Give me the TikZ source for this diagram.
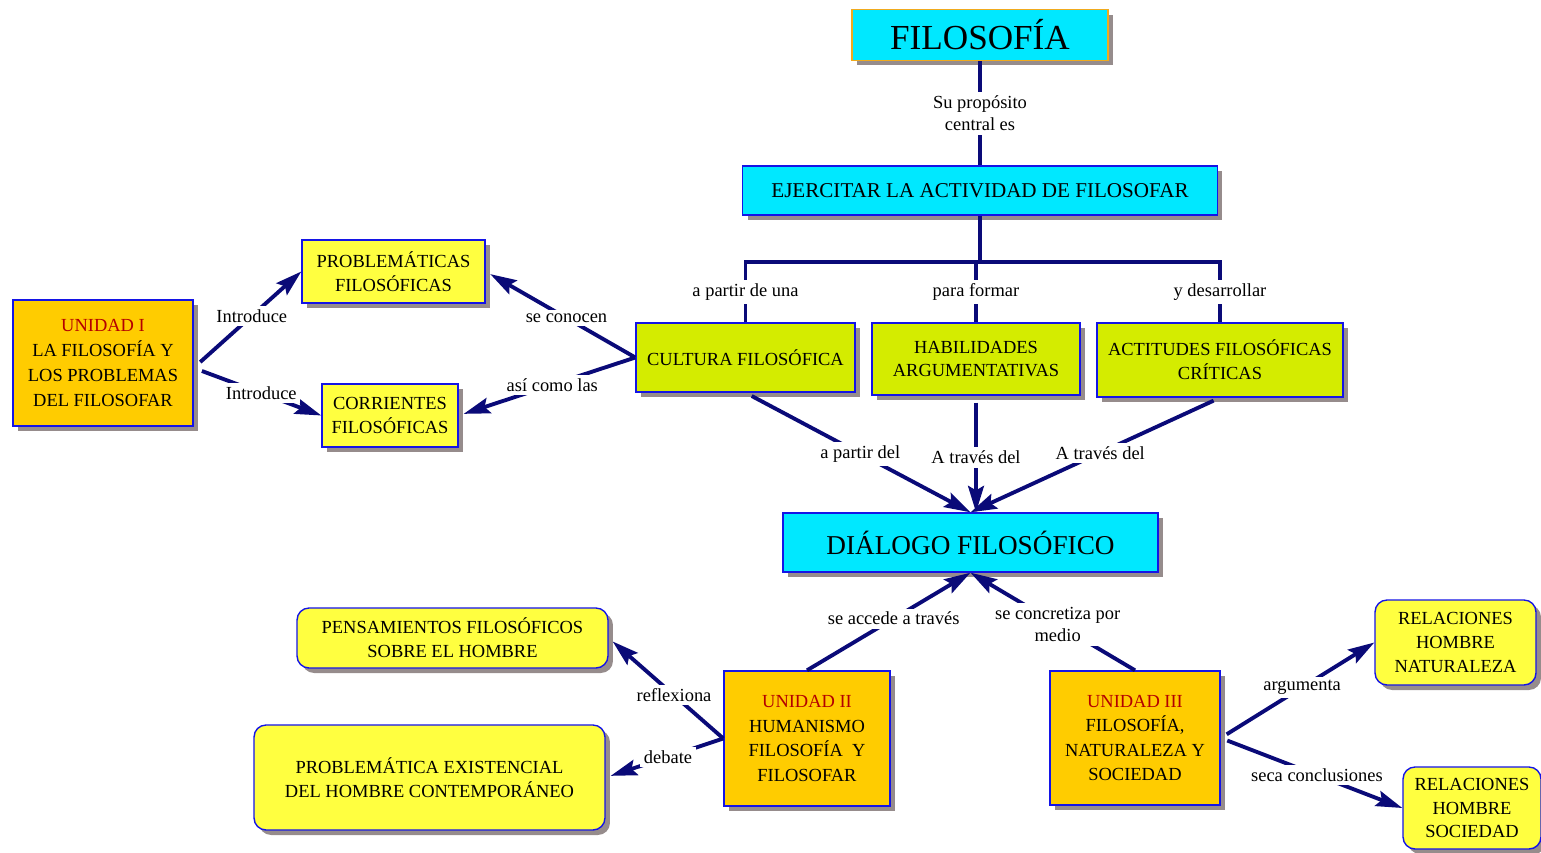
\documentclass[tikz,border=0pt]{standalone}
\usepackage{fontspec}
\setmainfont{Liberation Serif}
\usetikzlibrary{arrows.meta,shadows}
\definecolor{linea}{RGB}{10,10,120}
\definecolor{celeste}{RGB}{0,232,255}
\definecolor{limon}{RGB}{212,236,0}
\definecolor{amarillo}{RGB}{255,255,64}
\definecolor{naranja}{RGB}{255,204,0}
\definecolor{borde}{RGB}{20,20,230}
\definecolor{dorado}{RGB}{240,170,30}
\definecolor{sombra}{RGB}{150,140,140}
\definecolor{rojo}{RGB}{180,0,0}

\begin{document}
\begin{tikzpicture}[x=0.02cm, y=-0.02cm, >={Stealth[length=15pt,width=9pt,inset=2.5pt]},
    caja/.style={draw=borde, line width=0.8pt, align=center, inner sep=0pt,
        font=\fontsize{10.5}{13.6}\selectfont,
        drop shadow={shadow xshift=0.1cm, shadow yshift=-0.1cm, fill=sombra, opacity=1}},
    redonda/.style={caja, rounded corners=0.24cm, fill=amarillo},
    etiq/.style={fill=white, inner sep=2pt, align=center, font=\fontsize{10.5}{13}\selectfont},
    conn/.style={draw=linea, line width=2.2pt},
    flecha/.style={conn, ->}]

    \useasboundingbox (0,0) rectangle (1541,852);

    % cabecera
    \node[caja, draw=dorado, fill=celeste, minimum width=5.12cm, minimum height=1.02cm,
        font=\fontsize{20}{24}\selectfont] (filo) at (980,35) {FILOSOFÍA};
    \node[caja, fill=celeste, minimum width=9.5cm, minimum height=0.98cm,
        font=\fontsize{12}{14}\selectfont] (ejer) at (980,190.5) {EJERCITAR LA ACTIVIDAD DE FILOSOFAR};

    \node[caja, fill=limon, minimum width=4.38cm, minimum height=1.38cm] (cult) at (745.5,357.5) {CULTURA FILOSÓFICA};
    \node[caja, fill=limon, minimum width=4.16cm, minimum height=1.44cm] (habi) at (976,359) {HABILIDADES\\ARGUMENTATIVAS};
    \node[caja, fill=limon, minimum width=4.92cm, minimum height=1.48cm] (acti) at (1220,360) {ACTITUDES FILOSÓFICAS\\CRÍTICAS};

    % izquierda
    \node[caja, fill=naranja, minimum width=3.6cm, minimum height=2.52cm,
        font=\fontsize{10.5}{14.2}\selectfont] (uni1) at (103,363)
        {{\color{rojo}UNIDAD I}\\LA FILOSOFÍA Y\\LOS PROBLEMAS\\DEL FILOSOFAR};
    \node[caja, fill=amarillo, minimum width=3.66cm, minimum height=1.26cm] (prob) at (393.5,271.5) {PROBLEMÁTICAS\\FILOSÓFICAS};
    \node[caja, fill=amarillo, minimum width=2.72cm, minimum height=1.26cm] (corr) at (390,415.5) {CORRIENTES\\FILOSÓFICAS};

    \node[caja, fill=celeste, minimum width=7.5cm, minimum height=1.18cm,
        font=\fontsize{15.5}{18}\selectfont] (dial) at (970.5,542.5) {DIÁLOGO FILOSÓFICO};

    % abajo
    \node[caja, fill=naranja, minimum width=3.32cm, minimum height=2.7cm,
        font=\fontsize{10.5}{14}\selectfont] (uni2) at (807,738.5)
        {{\color{rojo}UNIDAD II}\\HUMANISMO\\FILOSOFÍA \ Y\\FILOSOFAR};
    \node[caja, fill=naranja, minimum width=3.4cm, minimum height=2.68cm,
        font=\fontsize{10.5}{14}\selectfont] (uni3) at (1135,738)
        {{\color{rojo}UNIDAD III}\\FILOSOFÍA,\\NATURALEZA Y\\SOCIEDAD};
    \node[redonda, minimum width=6.22cm, minimum height=1.2cm] (pens) at (452.5,638) {PENSAMIENTOS FILOSÓFICOS\\SOBRE EL HOMBRE};
    \node[redonda, minimum width=7.02cm, minimum height=2.1cm] (pexi) at (429.5,777.5) {PROBLEMÁTICA EXISTENCIAL\\DEL HOMBRE CONTEMPORÁNEO};
    \node[redonda, minimum width=3.22cm, minimum height=1.7cm] (rnat) at (1455.5,642.5) {RELACIONES\\HOMBRE\\NATURALEZA};
    \node[redonda, minimum width=2.76cm, minimum height=1.64cm] (rsoc) at (1472,808) {RELACIONES\\HOMBRE\\SOCIEDAD};

    % conectores
    \coordinate (rama) at (980,262);
    \coordinate (sal1) at ([yshift=-2.8pt]uni1.east);
    \draw[conn] (filo.south) -- node[etiq]{Su propósito\\central es} (ejer.north);
    \draw[conn] (ejer.south) -- (rama);
    \draw[conn] (rama) -| node[etiq, pos=0.75]{a partir de una} (cult.north);
    \draw[conn] (rama) -| node[etiq, pos=0.75]{y desarrollar} (acti.north);
    \draw[conn] (habi.north |- rama) -- node[etiq]{para formar} (habi.north);

    \draw[flecha, shorten <=5pt] (sal1) -- node[etiq, pos=0.54]{Introduce} (prob.west);
    \draw[flecha, shorten <=5pt] (sal1) -- node[etiq, pos=0.53]{Introduce} (corr.west);
    \draw[flecha, shorten >=3pt] (cult.west) -- node[etiq, pos=0.46]{se conocen} (prob.east);
    \draw[flecha, shorten >=3pt] (cult.west) -- node[etiq, pos=0.47]{así como las} (corr.east);

    \draw[flecha, shorten <=4pt] (cult.south) -- node[etiq, pos=0.51]{a partir del} (dial.north);
    \draw[flecha, shorten <=4pt] (habi.south) -- node[etiq, pos=0.53]{A través del} (habi.south |- dial.north);
    \draw[flecha, shorten <=4pt] (acti.south) -- node[etiq, pos=0.48]{A través del} (dial.north);

    \draw[flecha] (uni2.north) -- node[etiq, pos=0.53]{se accede a través} (dial.south);
    \draw[flecha] (uni3.north) -- node[etiq, pos=0.47]{se concretiza por\\medio} (dial.south);

    \draw[flecha, shorten >=3pt] (uni2.west) -- node[etiq, pos=0.43]{reflexiona} (pens.east);
    \draw[flecha, shorten >=3pt] (uni2.west) -- node[etiq, pos=0.47]{debate} (pexi.east);
    \draw[flecha, shorten <=4pt] (uni3.east) -- node[etiq, pos=0.53]{argumenta} (rnat.west);
    \draw[flecha, shorten <=4pt] (uni3.east) -- node[etiq, pos=0.53]{seca conclusiones} (rsoc.west);

\end{tikzpicture}
\end{document}
